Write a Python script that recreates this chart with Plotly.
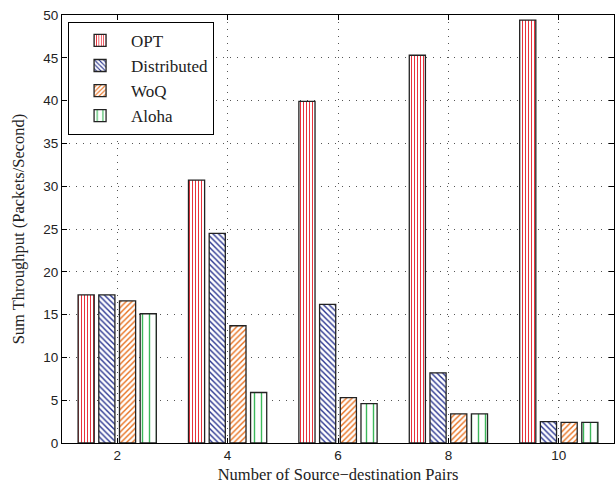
import plotly.graph_objects as go

pairs = [2, 4, 6, 8, 10]
opt = [17.3, 30.7, 39.9, 45.3, 49.4]
distributed = [17.3, 24.5, 16.2, 8.2, 2.5]
woq = [16.6, 13.7, 5.3, 3.4, 2.4]
aloha = [15.1, 5.9, 4.6, 3.4, 2.4]

series = [
    ("OPT", opt, "#e8323c", "|", 3, 0.35),
    ("Distributed", distributed, "#2a3590", "\\", 4, 0.35),
    ("WoQ", woq, "#e8701e", "/", 4, 0.35),
    ("Aloha", aloha, "#3cb85a", "|", 7, 0.2),
]

fig = go.Figure()
for name, vals, col, shape, size, sol in series:
    fig.add_trace(go.Bar(
        x=pairs, y=vals, name=name,
        marker=dict(color="white",
                    line=dict(color="#222222", width=1.3),
                    pattern=dict(shape=shape, fgcolor=col, bgcolor="white",
                                 size=size, solidity=sol, fillmode="replace")),
    ))

axis_common = dict(
    showline=True, linecolor="black", linewidth=1, mirror="allticks",
    ticks="inside", ticklen=5, tickcolor="black",
    showgrid=True, gridcolor="#555555", griddash="1px,6px", gridwidth=1,
    zeroline=False,
    tickfont=dict(family="Liberation Sans, Arial", size=13.5, color="#222222"),
)

serif = "Liberation Serif, Times New Roman, serif"

fig.update_layout(
    width=615, height=487,
    margin=dict(l=62, r=1, t=15, b=44),
    paper_bgcolor="white", plot_bgcolor="white",
    barmode="group", bargap=0.25, bargroupgap=0.22,
    xaxis=dict(range=[1, 11], tickvals=pairs,
               title=dict(text="Number of Source\u2212destination Pairs",
                          font=dict(family=serif, size=16.5, color="#222222"),
                          standoff=6),
               **axis_common),
    yaxis=dict(range=[0, 50], dtick=5,
               title=dict(text="Sum Throughput (Packets/Second)",
                          font=dict(family=serif, size=16.5, color="#222222"),
                          standoff=14),
               **axis_common),
    legend=dict(x=0.011, y=0.984, xanchor="left", yanchor="top",
                bgcolor="white", bordercolor="black", borderwidth=1,
                font=dict(family=serif, size=17, color="#222222"),
                itemwidth=52),
    showlegend=True,
)

fig.write_html("out.html")
